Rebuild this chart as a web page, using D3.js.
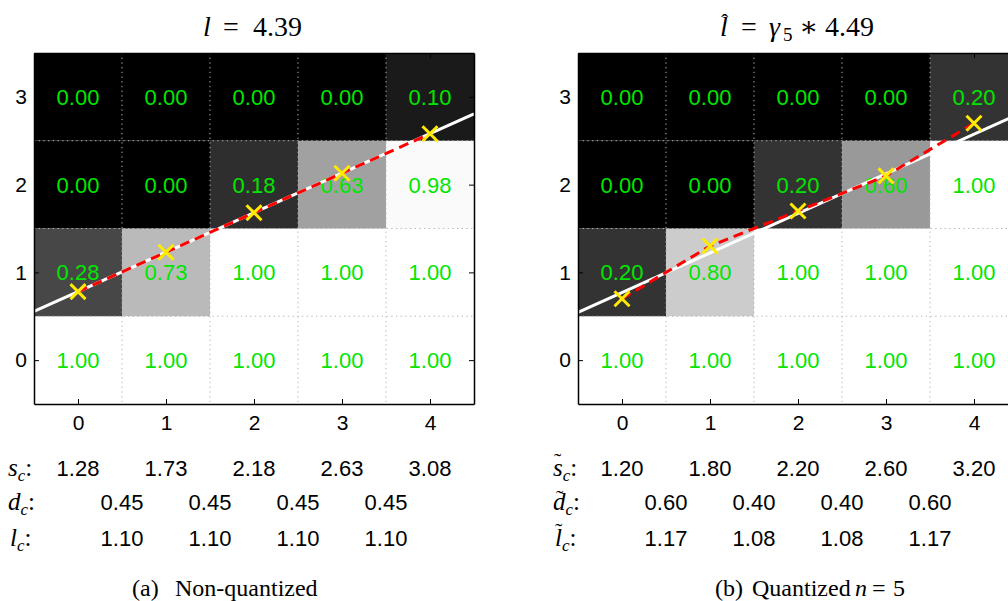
<!DOCTYPE html>
<html>
<head>
<meta charset="utf-8">
<script src="https://cdn.jsdelivr.net/npm/d3@7"></script>
<style>
  body { margin: 0; background: #fff; }
  svg { display: block; }
  .serif { font-family: "Liberation Serif", "DejaVu Serif", serif; }
  .sans { font-family: "Liberation Sans", Arial, sans-serif; }
</style>
</head>
<body>
<svg id="chart" width="1008" height="601"></svg>
<script>
// grid values, rows listed from 0 (bottom) to 3 (top)
const columns = [0, 1, 2, 3, 4];
const rows = [0, 1, 2, 3];

const cellsA = [
  [1.0, 1.0, 1.0, 1.0, 1.0],
  [0.28, 0.73, 1.0, 1.0, 1.0],
  [0.0, 0.0, 0.18, 0.63, 0.98],
  [0.0, 0.0, 0.0, 0.0, 0.1],
];
const cellsB = [
  [1.0, 1.0, 1.0, 1.0, 1.0],
  [0.2, 0.8, 1.0, 1.0, 1.0],
  [0.0, 0.0, 0.2, 0.6, 1.0],
  [0.0, 0.0, 0.0, 0.0, 0.2],
];

// per-column table values
const sA = [1.28, 1.73, 2.18, 2.63, 3.08];
const dA = [0.45, 0.45, 0.45, 0.45];
const lA = [1.1, 1.1, 1.1, 1.1];
const sB = [1.2, 1.8, 2.2, 2.6, 3.2];
const dB = [0.6, 0.4, 0.4, 0.6];
const lB = [1.17, 1.08, 1.08, 1.17];

// marker heights (s - 0.5) and white reference line end points
const markersA = [0.78, 1.23, 1.68, 2.13, 2.58];
const markersB = [0.7, 1.3, 1.7, 2.1, 2.7];
const lineA = [[-0.5, 0.555], [4.5, 2.805]];
const lineB = [[-0.5, 0.545], [4.5, 2.8]];

const xTicks = [0, 1, 2, 3, 4];
const yTicks = [0, 1, 2, 3];

const svg = d3.select("#chart");
const fmt = d3.format(".2f");
const gray = d3.scaleLinear().domain([0, 1]).range(["#000", "#fff"]);

const innerWidth = 440;
const innerHeight = 351;
const green = "#00e600";

const panel = (left, props) => {
  const { cells, markers, line, s, d, l, labels } = props;

  const xScale = d3.scaleLinear().domain([-0.5, 4.5]).range([0, innerWidth]);
  const yScale = d3.scaleLinear().domain([-0.5, 3.5]).range([innerHeight, 0]);

  const g = svg.append("g").attr("transform", `translate(${left},53)`);

  const flat = [];
  rows.forEach((r) => columns.forEach((c) => flat.push({ r, c, v: cells[r][c] })));

  g.selectAll(".cell")
    .data(flat)
    .enter()
    .append("rect")
    .attr("class", "cell")
    .attr("x", (e) => xScale(e.c - 0.5))
    .attr("y", (e) => yScale(e.r + 0.5))
    .attr("width", xScale(1) - xScale(0))
    .attr("height", yScale(0) - yScale(1))
    .attr("fill", (e) => gray(e.v));

  //dotted grid on cell borders
  g.selectAll(".vgrid")
    .data([0.5, 1.5, 2.5, 3.5])
    .enter()
    .append("line")
    .attr("x1", (v) => xScale(v))
    .attr("x2", (v) => xScale(v))
    .attr("y1", 0)
    .attr("y2", innerHeight)
    .attr("stroke", "#b4b4b4")
    .attr("stroke-width", 1)
    .attr("stroke-dasharray", "1.3,3.4");
  g.selectAll(".hgrid")
    .data([0.5, 1.5, 2.5])
    .enter()
    .append("line")
    .attr("y1", (v) => yScale(v))
    .attr("y2", (v) => yScale(v))
    .attr("x1", 0)
    .attr("x2", innerWidth)
    .attr("stroke", "#b4b4b4")
    .attr("stroke-width", 1)
    .attr("stroke-dasharray", "1.3,3.4");

  g.selectAll(".val")
    .data(flat)
    .enter()
    .append("text")
    .attr("class", "sans")
    .attr("x", (e) => xScale(e.c))
    .attr("y", (e) => yScale(e.r))
    .attr("dy", "0.36em")
    .attr("text-anchor", "middle")
    .attr("font-size", 22)
    .attr("fill", green)
    .text((e) => fmt(e.v));

  const lineGen = d3
    .line()
    .x((p) => xScale(p[0]))
    .y((p) => yScale(p[1]));

  g.append("path")
    .attr("d", lineGen(line))
    .attr("fill", "none")
    .attr("stroke", "#fff")
    .attr("stroke-width", 3);

  const pts = markers.map((m, i) => [columns[i], m]);
  g.append("path")
    .attr("d", lineGen(pts))
    .attr("fill", "none")
    .attr("stroke", "#ff0000")
    .attr("stroke-width", 3)
    .attr("stroke-dasharray", "10,6");

  const k = 7.5;
  g.selectAll(".mark")
    .data(pts)
    .enter()
    .append("path")
    .attr("d", (p) => {
      const x = xScale(p[0]);
      const y = yScale(p[1]);
      return `M${x - k},${y - k}L${x + k},${y + k}M${x - k},${y + k}L${x + k},${y - k}`;
    })
    .attr("stroke", "#ffea00")
    .attr("stroke-width", 3);

  // axes with inward ticks, box on all four sides
  const styleAxis = (sel) => {
    sel.selectAll("path.domain").attr("stroke", "#000").attr("stroke-width", 1.5);
    sel.selectAll(".tick line").attr("stroke", "#000");
    sel.selectAll("text")
      .attr("class", "sans")
      .attr("font-size", 21)
      .attr("fill", "#000");
  };

  g.append("g")
    .call(d3.axisLeft(yScale).tickValues(yTicks).tickSizeInner(-5).tickSizeOuter(0).tickPadding(7).tickFormat(d3.format("d")))
    .call(styleAxis)
    .attr("font-family", null);
  g.append("g")
    .attr("transform", `translate(0,${innerHeight})`)
    .call(d3.axisBottom(xScale).tickValues(xTicks).tickSizeInner(-5).tickSizeOuter(0).tickPadding(11).tickFormat(d3.format("d")))
    .call(styleAxis)
    .attr("font-family", null);
  g.append("g")
    .call(d3.axisTop(xScale).tickValues(xTicks).tickSizeInner(-5).tickSizeOuter(0).tickFormat(""))
    .call(styleAxis);
  g.append("g")
    .attr("transform", `translate(${innerWidth},0)`)
    .call(d3.axisRight(yScale).tickValues(yTicks).tickSizeInner(-5).tickSizeOuter(0).tickFormat(""))
    .call(styleAxis);

  // table under the plot
  const rowsY = [476, 510, 546];
  const tbl = svg.append("g").attr("transform", `translate(${left},0)`);
  tbl.selectAll(".s")
    .data(s)
    .enter()
    .append("text")
    .attr("class", "sans")
    .attr("x", (v, i) => xScale(columns[i]))
    .attr("y", rowsY[0])
    .attr("text-anchor", "middle")
    .attr("font-size", 22)
    .text(fmt);
  [d, l].forEach((arr, j) => {
    tbl.selectAll(".r" + j)
      .data(arr)
      .enter()
      .append("text")
      .attr("class", "sans")
      .attr("x", (v, i) => xScale(columns[i] + 0.5))
      .attr("y", rowsY[j + 1])
      .attr("text-anchor", "middle")
      .attr("font-size", 22)
      .text(fmt);
  });

  // row labels
  labels.forEach((lab, j) => {
    const t = svg.append("text")
      .attr("class", "serif")
      .attr("x", lab.x)
      .attr("y", rowsY[j])
      .attr("font-size", 25);
    t.append("tspan").attr("font-style", "italic").text(lab.sym);
    t.append("tspan").attr("font-style", "italic").attr("font-size", 17).attr("dy", 5).text("c");
    t.append("tspan").attr("dy", -5).text(":");
    if (lab.tilde) {
      svg.append("text")
        .attr("class", "serif")
        .attr("x", lab.x + lab.tx)
        .attr("y", rowsY[j] - lab.ty)
        .attr("font-size", 22)
        .text("\u02DC");
    }
  });
};

panel(34, {
  cells: cellsA,
  markers: markersA,
  line: lineA,
  s: sA,
  d: dA,
  l: lA,
  labels: [
    { x: 8, sym: "s" },
    { x: 8, sym: "d" },
    { x: 10, sym: "l" },
  ],
});

panel(578, {
  cells: cellsB,
  markers: markersB,
  line: lineB,
  s: sB,
  d: dB,
  l: lB,
  labels: [
    { x: 553, sym: "s", tilde: true, tx: 1, ty: 8 },
    { x: 553, sym: "d", tilde: true, tx: 3, ty: 5 },
    { x: 555, sym: "l", tilde: true, tx: 0, ty: 8 },
  ],
});

// titles, pieces placed one by one like TeX spacing
const piece = (sel, x, txt, italic, size, dy) => {
  sel.append("tspan")
    .attr("x", x)
    .attr("dy", dy || 0)
    .attr("font-style", italic ? "italic" : null)
    .attr("font-size", size || null)
    .text(txt);
};

const titleA = svg.append("text").attr("class", "serif").attr("y", 36).attr("font-size", 28);
piece(titleA, 203, "l", true);
piece(titleA, 223, "=");
piece(titleA, 253, "4.39");

const titleB = svg.append("text").attr("class", "serif").attr("y", 36).attr("font-size", 28);
piece(titleB, 720, "l", true);
piece(titleB, 741, "=");
piece(titleB, 769, "\u03B3", true);
piece(titleB, 783, "5", false, 19, 5);
piece(titleB, 799, "\u2217", false, 28, -5);
piece(titleB, 825, "4.49");
svg.append("text")
  .attr("class", "serif")
  .attr("x", 721)
  .attr("y", 29)
  .attr("font-size", 22)
  .text("\u02C6");

// captions
const capA = svg.append("text").attr("class", "serif").attr("y", 596).attr("font-size", 24);
piece(capA, 132, "(a)");
piece(capA, 175, "Non-quantized");

const capB = svg.append("text").attr("class", "serif").attr("y", 596).attr("font-size", 24);
piece(capB, 715, "(b)");
piece(capB, 752, "Quantized");
piece(capB, 855, "n", true);
piece(capB, 872, "=");
piece(capB, 893, "5");
</script>
</body>
</html>
